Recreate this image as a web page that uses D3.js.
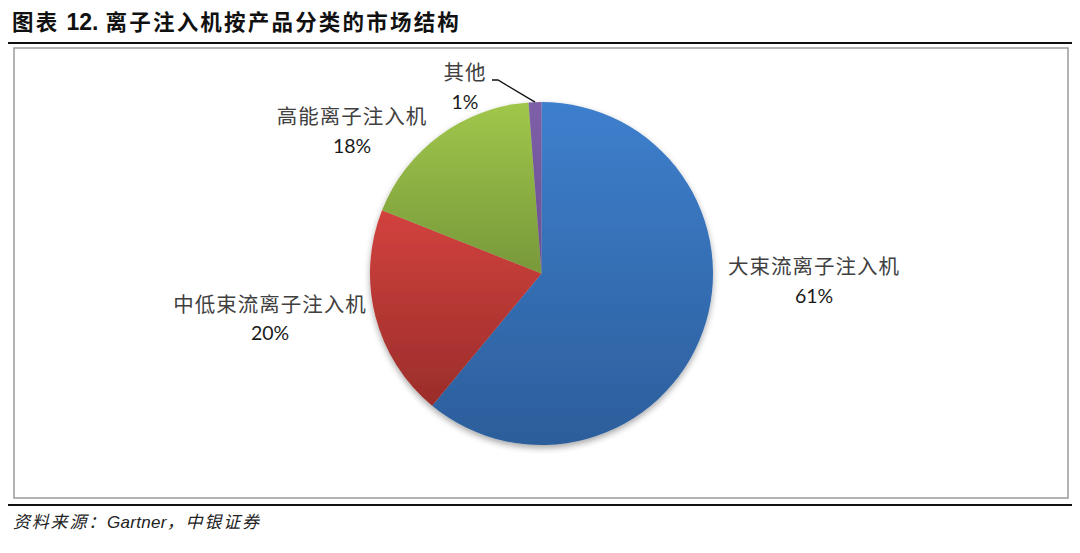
<!DOCTYPE html>
<html>
<head>
<meta charset="utf-8">
<title>离子注入机按产品分类的市场结构</title>
<script src="https://cdnjs.cloudflare.com/ajax/libs/d3/7.8.5/d3.min.js"></script>
<style>
html, body { margin: 0; padding: 0; background: #fff; }
svg { display: block; }
.title { font-family: "Noto Sans CJK SC", sans-serif; font-weight: bold; font-size: 21.5px; fill: #111; letter-spacing: 2.2px; }
.title tspan.num { font-family: "Liberation Sans", Arial, sans-serif; font-size: 23px; letter-spacing: 0; }
.src { font-family: "Noto Sans CJK SC", sans-serif; font-style: italic; font-size: 17px; fill: #222; letter-spacing: 1.8px; }
.src tspan.lat { font-family: "Liberation Sans", Arial, sans-serif; letter-spacing: 0.3px; }
.name { font-family: "Noto Sans CJK SC", sans-serif; font-size: 20.5px; fill: #404040; letter-spacing: 1px; }
.pct { font-family: Lato, "Open Sans", sans-serif; font-size: 19.5px; fill: #1a1a1a; }
</style>
</head>
<body>
<div id="chart"></div>
<script>
// data
var categories = ["大束流离子注入机", "中低束流离子注入机", "高能离子注入机", "其他"];
var shares = [61, 20, 17.8, 1.2];
var pctLabels = ["61%", "20%", "18%", "1%"];
var topColors = ["#3e7fcd", "#d2423e", "#a0c74b", "#7d5fa8"];
var bottomColors = ["#2c5e9b", "#9a2d2a", "#78983a", "#6a4f92"];
// label anchor points (centre of first text line)
var labelPos = [[814, 267], [270, 305], [352, 117], [465, 73]];

var W = 1080, H = 553;
var cx = 541.5, cy = 273.5, r = 171.5;

var svg = d3.select("#chart").append("svg")
  .attr("width", W).attr("height", H);

var defs = svg.append("defs");
var shadow = defs.append("filter").attr("id", "shadow")
  .attr("x", "-20%").attr("y", "-20%").attr("width", "140%").attr("height", "140%");
shadow.append("feDropShadow")
  .attr("dx", 0).attr("dy", 3).attr("stdDeviation", 3)
  .attr("flood-color", "#000").attr("flood-opacity", 0.35);

categories.forEach(function (c, i) {
  var g = defs.append("linearGradient").attr("id", "grad" + i)
    .attr("x1", 0).attr("y1", 0).attr("x2", 0).attr("y2", 1);
  g.append("stop").attr("offset", "0%").attr("stop-color", topColors[i]);
  g.append("stop").attr("offset", "100%").attr("stop-color", bottomColors[i]);
});

// title and rules
svg.append("text").attr("class", "title").attr("x", 12).attr("y", 30)
  .call(function (t) {
    t.append("tspan").text("图表 ");
    t.append("tspan").attr("class", "num").text("12.");
    t.append("tspan").text(" 离子注入机按产品分类的市场结构");
  });
svg.append("line").attr("x1", 8).attr("x2", 1072).attr("y1", 43).attr("y2", 43)
  .attr("stroke", "#111").attr("stroke-width", 2);

svg.append("rect").attr("x", 14).attr("y", 48).attr("width", 1054).attr("height", 450)
  .attr("fill", "#fff").attr("stroke", "#9a9a9a").attr("stroke-width", 1.5);

svg.append("line").attr("x1", 8).attr("x2", 1072).attr("y1", 505).attr("y2", 505)
  .attr("stroke", "#111").attr("stroke-width", 2);
svg.append("text").attr("class", "src").attr("x", 13).attr("y", 528)
  .call(function (t) {
    t.append("tspan").text("资料来源：");
    t.append("tspan").attr("class", "lat").text("Gartner");
    t.append("tspan").text("，中银证券");
  });

// pie
var pie = d3.pie().sort(null).startAngle(0).endAngle(2 * Math.PI);
var arc = d3.arc().innerRadius(0).outerRadius(r);
var arcs = pie(shares);

var pg = svg.append("g").attr("transform", "translate(" + cx + "," + cy + ")");
pg.append("g").attr("filter", "url(#shadow)")
  .selectAll("path").data(arcs).enter().append("path")
  .attr("d", arc)
  .attr("fill", function (d, i) { return "url(#grad" + i + ")"; });

// leader line for the small slice
var small = arcs[3];
var mid = (small.startAngle + small.endAngle) / 2;
var edge = [cx + r * Math.sin(mid), cy - r * Math.cos(mid)];
svg.append("polyline")
  .attr("points", [[492, 80], [498, 80], edge].map(function (p) { return p.join(","); }).join(" "))
  .attr("fill", "none").attr("stroke", "#111").attr("stroke-width", 1.3);

// labels
var lab = svg.append("g").selectAll("g").data(categories).enter().append("g")
  .attr("transform", function (d, i) { return "translate(" + labelPos[i][0] + "," + labelPos[i][1] + ")"; });
lab.append("text").attr("class", "name").attr("text-anchor", "middle")
  .attr("dy", "0.35em").text(function (d) { return d; });
lab.append("text").attr("class", "pct").attr("text-anchor", "middle")
  .attr("y", function (d, i) { return i === 1 ? 28 : 29; })
  .attr("dy", "0.35em").text(function (d, i) { return pctLabels[i]; });
</script>
</body>
</html>
